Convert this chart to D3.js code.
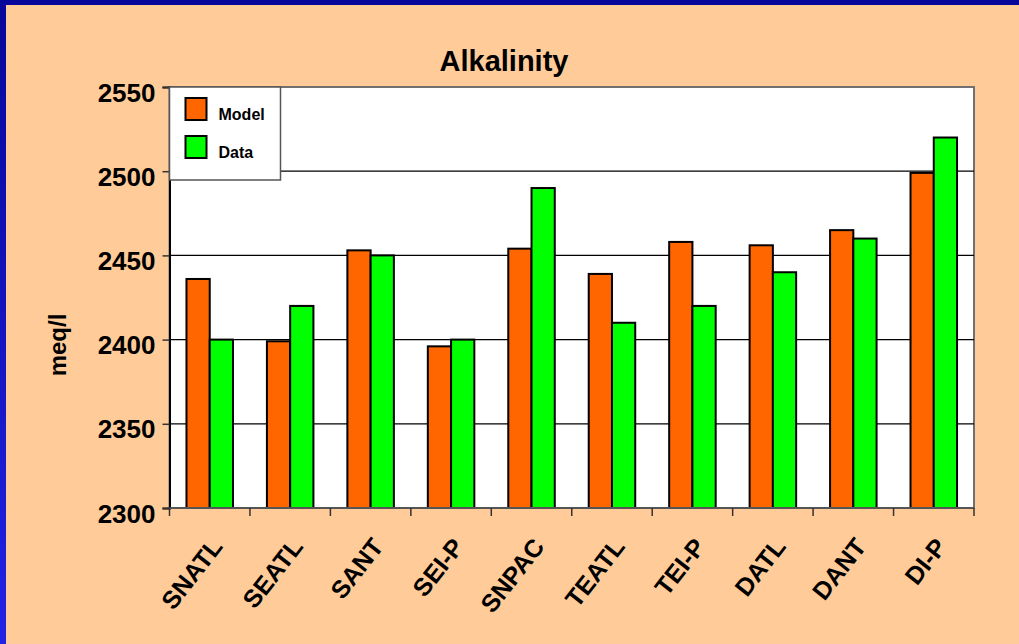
<!DOCTYPE html>
<html>
<head>
<meta charset="utf-8">
<script src="https://cdn.jsdelivr.net/npm/d3@7"></script>
<style>
  body { margin: 0; padding: 0; background: #FFCC99; }
  svg { display: block; font-family: Arial, "Liberation Sans", sans-serif; }
</style>
</head>
<body>
<div class="chart"></div>
<script>
var categories = ['SNATL', 'SEATL', 'SANT', 'SEI-P', 'SNPAC', 'TEATL', 'TEI-P', 'DATL', 'DANT', 'DI-P'];
var modelValues = [2436, 2399, 2453, 2396, 2454, 2439, 2458, 2456, 2465, 2499];
var dataValues = [2400, 2420, 2450, 2400, 2490, 2410, 2420, 2440, 2460, 2520];
var seriesNames = ['Model', 'Data'];
var seriesColors = ['#FF6600', '#00FF00'];
var yTicks = [2300, 2350, 2400, 2450, 2500, 2550];

var W = 1019, H = 644;
var plot = { left: 169.5, right: 974, top: 87, bottom: 508 };

var svg = d3.select('.chart')
    .append('svg')
    .attr('width', W)
    .attr('height', H);

// slide background + blue frame
var defs = svg.append('defs');
var grad = defs.append('linearGradient')
    .attr('id', 'leftBlue')
    .attr('x1', 0).attr('y1', 0).attr('x2', 0).attr('y2', 1);
grad.append('stop').attr('offset', '0%').attr('stop-color', '#06069A');
grad.append('stop').attr('offset', '100%').attr('stop-color', '#2222E6');

svg.append('rect').attr('width', W).attr('height', H).attr('fill', '#FFCC99');
svg.append('rect').attr('x', 0).attr('y', 0).attr('width', 6).attr('height', H).attr('fill', 'url(#leftBlue)');
svg.append('rect').attr('x', 0).attr('y', 0).attr('width', W).attr('height', 5).attr('fill', '#06069A');

var rows = categories.map((c, i) => ({ cat: c, values: [modelValues[i], dataValues[i]] }));

var x = d3.scaleBand()
    .domain(categories)
    .range([plot.left, plot.right])
    .padding(0);

var xSub = d3.scaleBand()
    .domain(seriesNames)
    .range([0, x.bandwidth()])
    .paddingInner(0)
    .paddingOuter(0.73);

var y = d3.scaleLinear()
    .domain([2300, 2550])
    .range([plot.bottom, plot.top]);

// plot area
svg.append('rect')
    .attr('x', plot.left)
    .attr('y', plot.top)
    .attr('width', plot.right - plot.left)
    .attr('height', plot.bottom - plot.top)
    .attr('fill', '#ffffff')
    .attr('stroke', '#707070')
    .attr('stroke-width', 2);

// gridlines
svg.append('g')
    .selectAll('line')
    .data(yTicks.filter(t => t > 2300 && t < 2550))
    .enter()
    .append('line')
    .attr('x1', plot.left)
    .attr('x2', plot.right)
    .attr('y1', d => y(d))
    .attr('y2', d => y(d))
    .attr('stroke', '#000')
    .attr('stroke-width', 1.2);

// bars
var groups = svg.selectAll('.grp')
    .data(rows)
    .enter()
    .append('g')
    .attr('class', 'grp')
    .attr('transform', d => `translate(${x(d.cat)}, 0)`);

groups.selectAll('rect')
    .data(d => d.values.map((v, i) => ({ name: seriesNames[i], value: v, color: seriesColors[i] })))
    .enter()
    .append('rect')
    .attr('x', d => xSub(d.name))
    .attr('y', d => y(d.value))
    .attr('width', xSub.bandwidth())
    .attr('height', d => y(2300) - y(d.value))
    .attr('fill', d => d.color)
    .attr('stroke', '#000')
    .attr('stroke-width', 2);

// y axis
var yAxis = d3.axisLeft(y)
    .tickValues(yTicks)
    .tickSize(7)
    .tickFormat(d3.format('d'));

var gy = svg.append('g')
    .attr('transform', `translate(${plot.left}, 0)`)
    .call(yAxis);
gy.select('.domain').attr('stroke', '#000').attr('stroke-width', 2);
gy.selectAll('.tick line').attr('stroke', '#333').attr('stroke-width', 1.5);
gy.selectAll('.tick text')
    .attr('x', -14)
    .attr('dy', 14)
    .style('font-size', '26px')
    .style('font-weight', 'bold')
    .style('fill', '#000');

// x axis
var boundaries = categories.map(c => x(c)).concat([plot.right]);
svg.append('line')
    .attr('x1', plot.left).attr('x2', plot.right)
    .attr('y1', plot.bottom).attr('y2', plot.bottom)
    .attr('stroke', '#555').attr('stroke-width', 2);
svg.append('g')
    .selectAll('line')
    .data(boundaries)
    .enter()
    .append('line')
    .attr('x1', d => d).attr('x2', d => d)
    .attr('y1', plot.bottom).attr('y2', plot.bottom + 8)
    .attr('stroke', '#333').attr('stroke-width', 1.5);

svg.append('g')
    .selectAll('text')
    .data(categories)
    .enter()
    .append('text')
    .attr('transform', d => `translate(${x(d) + x.bandwidth() / 2 + 14}, 547) rotate(-52)`)
    .style('text-anchor', 'end')
    .style('font-size', '25px')
    .style('font-weight', 'bold')
    .style('fill', '#000')
    .text(d => d);

// title
svg.append('text')
    .attr('x', 504)
    .attr('y', 71)
    .style('text-anchor', 'middle')
    .style('font-size', '29px')
    .style('font-weight', 'bold')
    .style('fill', '#000')
    .text('Alkalinity');

// y label
svg.append('text')
    .attr('transform', 'translate(66, 345) rotate(-90)')
    .style('text-anchor', 'middle')
    .style('font-size', '24px')
    .style('font-weight', 'bold')
    .style('fill', '#000')
    .text('meq/l');

// legend
var legend = svg.append('g')
    .attr('transform', `translate(${plot.left}, ${plot.top})`);
legend.append('rect')
    .attr('x', 0).attr('y', 0)
    .attr('width', 111).attr('height', 93)
    .attr('fill', '#fff')
    .attr('stroke', '#555')
    .attr('stroke-width', 1.5);
var items = legend.selectAll('.item')
    .data(seriesNames)
    .enter()
    .append('g')
    .attr('class', 'item')
    .attr('transform', (d, i) => `translate(16, ${11 + i * 38})`);
items.append('rect')
    .attr('width', 21).attr('height', 22)
    .attr('fill', (d, i) => seriesColors[i])
    .attr('stroke', '#000')
    .attr('stroke-width', 2);
items.append('text')
    .attr('x', 33)
    .attr('y', 22)
    .style('font-size', '16px')
    .style('font-weight', 'bold')
    .style('fill', '#000')
    .text(d => d);
</script>
</body>
</html>
